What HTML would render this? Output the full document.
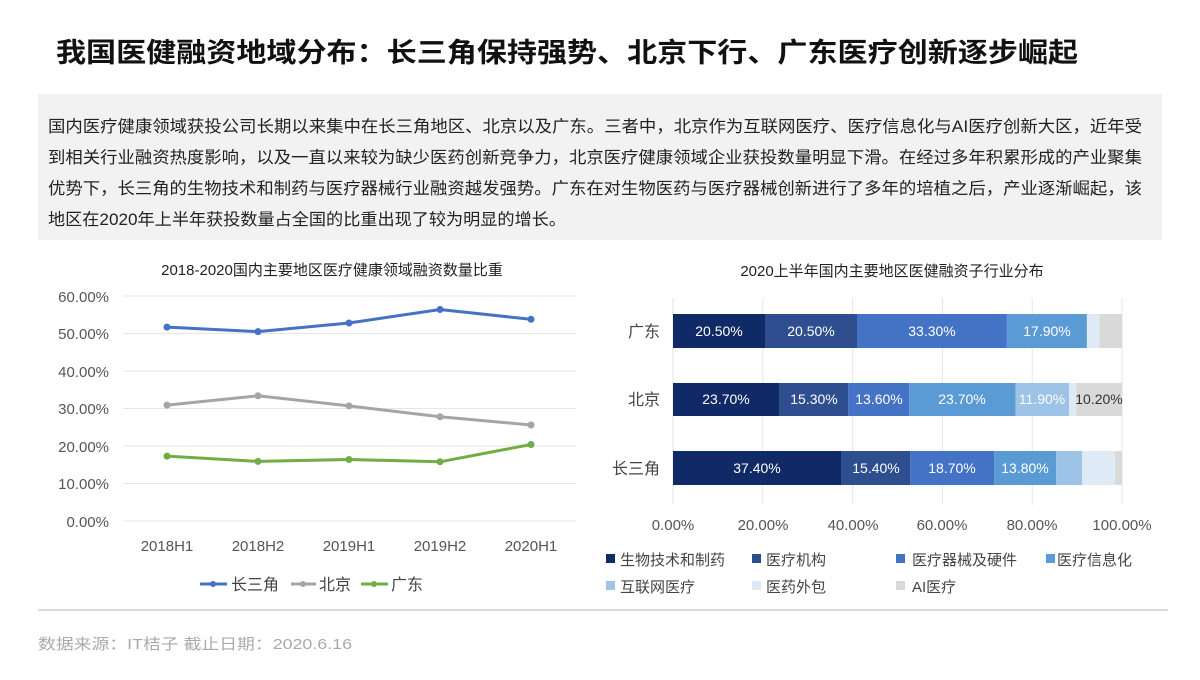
<!DOCTYPE html>
<html><head><meta charset="utf-8"><style>
body{margin:0;width:1200px;height:675px;background:#fff;overflow:hidden;font-family:"Liberation Sans","Noto Sans CJK SC",sans-serif;}
</style></head><body>
<svg width="1200" height="675" xmlns="http://www.w3.org/2000/svg" font-family="Liberation Sans, Noto Sans CJK SC, sans-serif">
<text x="56" y="62" font-size="27" font-weight="bold" fill="#111" textLength="1022" lengthAdjust="spacingAndGlyphs">我国医健融资地域分布：长三角保持强势、北京下行、广东医疗创新逐步崛起</text>
<rect x="38" y="94" width="1124" height="146" fill="#f2f2f2"/>
<g font-size="16.5" fill="#222">
<text x="48" y="132" textLength="1094" lengthAdjust="spacingAndGlyphs">国内医疗健康领域获投公司长期以来集中在长三角地区、北京以及广东。三者中，北京作为互联网医疗、医疗信息化与AI医疗创新大区，近年受</text>
<text x="48" y="163" textLength="1094" lengthAdjust="spacingAndGlyphs">到相关行业融资热度影响，以及一直以来较为缺少医药创新竞争力，北京医疗健康领域企业获投数量明显下滑。在经过多年积累形成的产业聚集</text>
<text x="48" y="194" textLength="1094" lengthAdjust="spacingAndGlyphs">优势下，长三角的生物技术和制药与医疗器械行业融资越发强势。广东在对生物医药与医疗器械创新进行了多年的培植之后，产业逐渐崛起，该</text>
<text x="48" y="225" textLength="518" lengthAdjust="spacingAndGlyphs">地区在2020年上半年获投数量占全国的比重出现了较为明显的增长。</text>
</g>
<!-- line chart -->
<text x="332" y="275" font-size="15" fill="#222" text-anchor="middle">2018-2020国内主要地区医疗健康领域融资数量比重</text>
<g stroke="#e6e6e6" stroke-width="1">
<line x1="123" x2="576" y1="296" y2="296"/><line x1="123" x2="576" y1="333.5" y2="333.5"/><line x1="123" x2="576" y1="371" y2="371"/><line x1="123" x2="576" y1="408.5" y2="408.5"/><line x1="123" x2="576" y1="446" y2="446"/><line x1="123" x2="576" y1="483.5" y2="483.5"/><line x1="123" x2="576" y1="521" y2="521"/>
</g>
<g font-size="15" fill="#555" text-anchor="end">
<text x="109" y="302">60.00%</text><text x="109" y="339">50.00%</text><text x="109" y="377">40.00%</text><text x="109" y="414">30.00%</text><text x="109" y="452">20.00%</text><text x="109" y="489">10.00%</text><text x="109" y="527">0.00%</text>
</g>
<g font-size="15" fill="#555" text-anchor="middle">
<text x="167" y="551">2018H1</text><text x="258" y="551">2018H2</text><text x="349" y="551">2019H1</text><text x="440" y="551">2019H2</text><text x="531" y="551">2020H1</text>
</g>
<g fill="none" stroke-width="3">
<polyline stroke="#4472c4" points="167,327.1 258,331.6 349,323 440,309.5 531,319.3"/>
<polyline stroke="#a5a5a5" points="167,405.1 258,395.8 349,405.9 440,416.8 531,425"/>
<polyline stroke="#70ad47" points="167,456.1 258,461.4 349,459.5 440,461.8 531,444.5"/>
</g>
<g fill="#4472c4"><circle cx="167" cy="327.1" r="3.5"/><circle cx="258" cy="331.6" r="3.5"/><circle cx="349" cy="323" r="3.5"/><circle cx="440" cy="309.5" r="3.5"/><circle cx="531" cy="319.3" r="3.5"/></g>
<g fill="#a5a5a5"><circle cx="167" cy="405.1" r="3.5"/><circle cx="258" cy="395.8" r="3.5"/><circle cx="349" cy="405.9" r="3.5"/><circle cx="440" cy="416.8" r="3.5"/><circle cx="531" cy="425" r="3.5"/></g>
<g fill="#70ad47"><circle cx="167" cy="456.1" r="3.5"/><circle cx="258" cy="461.4" r="3.5"/><circle cx="349" cy="459.5" r="3.5"/><circle cx="440" cy="461.8" r="3.5"/><circle cx="531" cy="444.5" r="3.5"/></g>
<g stroke-width="3"><line x1="200" x2="227" y1="584" y2="584" stroke="#4472c4"/><line x1="291" x2="316" y1="584" y2="584" stroke="#a5a5a5"/><line x1="361" x2="388" y1="584" y2="584" stroke="#70ad47"/></g>
<circle cx="213" cy="584" r="3" fill="#4472c4"/><circle cx="303" cy="584" r="3" fill="#a5a5a5"/><circle cx="374" cy="584" r="3" fill="#70ad47"/>
<g font-size="16" fill="#444"><text x="231" y="590">长三角</text><text x="319" y="590">北京</text><text x="391" y="590">广东</text></g>
<!-- bar chart -->
<text x="892" y="276" font-size="15" fill="#222" text-anchor="middle">2020上半年国内主要地区医健融资子行业分布</text>
<g stroke="#e6e6e6"><line x1="673" x2="673" y1="298" y2="505"/><line x1="762.8" x2="762.8" y1="298" y2="505"/><line x1="852.6" x2="852.6" y1="298" y2="505"/><line x1="942.4" x2="942.4" y1="298" y2="505"/><line x1="1032.2" x2="1032.2" y1="298" y2="505"/><line x1="1122" x2="1122" y1="298" y2="505"/></g>
<g font-size="15" fill="#555" text-anchor="middle"><text x="673" y="530">0.00%</text><text x="763" y="530">20.00%</text><text x="853" y="530">40.00%</text><text x="942" y="530">60.00%</text><text x="1032" y="530">80.00%</text><text x="1122" y="530">100.00%</text></g>
<g font-size="16" fill="#444" text-anchor="end"><text x="660" y="337">广东</text><text x="660" y="405">北京</text><text x="660" y="474">长三角</text></g>
<rect x="673" y="314" width="92" height="34" fill="#0f2a66"/><rect x="765" y="314" width="92" height="34" fill="#2e4e8f"/><rect x="857" y="314" width="149.5" height="34" fill="#4472c4"/><rect x="1006.5" y="314" width="80.4" height="34" fill="#5b9bd5"/><rect x="1086.9" y="314" width="12.6" height="34" fill="#deebf7"/><rect x="1099.5" y="314" width="22.5" height="34" fill="#d9d9d9"/>
<rect x="673" y="383" width="106.4" height="33" fill="#0f2a66"/><rect x="779.4" y="383" width="68.7" height="33" fill="#2e4e8f"/><rect x="848.1" y="383" width="61.1" height="33" fill="#4472c4"/><rect x="909.2" y="383" width="106.4" height="33" fill="#5b9bd5"/><rect x="1015.6" y="383" width="53.4" height="33" fill="#9dc3e6"/><rect x="1069" y="383" width="7.2" height="33" fill="#deebf7"/><rect x="1076.2" y="383" width="45.8" height="33" fill="#d9d9d9"/>
<rect x="673" y="451" width="168" height="34" fill="#0f2a66"/><rect x="841" y="451" width="69.1" height="34" fill="#2e4e8f"/><rect x="910.1" y="451" width="84" height="34" fill="#4472c4"/><rect x="994.1" y="451" width="62" height="34" fill="#5b9bd5"/><rect x="1056.1" y="451" width="26" height="34" fill="#9dc3e6"/><rect x="1082.1" y="451" width="32.8" height="34" fill="#deebf7"/><rect x="1114.9" y="451" width="7.1" height="34" fill="#d9d9d9"/>
<g font-size="14" fill="#fff" text-anchor="middle">
<text x="719" y="336">20.50%</text><text x="811" y="336">20.50%</text><text x="932" y="336">33.30%</text><text x="1047" y="336">17.90%</text>
<text x="726" y="404">23.70%</text><text x="814" y="404">15.30%</text><text x="879" y="404">13.60%</text><text x="962" y="404">23.70%</text><text x="1042" y="404">11.90%</text>
<text x="757" y="473">37.40%</text><text x="876" y="473">15.40%</text><text x="952" y="473">18.70%</text><text x="1025" y="473">13.80%</text>
</g>
<text x="1099" y="404" font-size="14" fill="#333" text-anchor="middle">10.20%</text>
<g font-size="15" fill="#444">
<rect x="606" y="554" width="9" height="9" fill="#0f2a66"/><text x="620" y="565">生物技术和制药</text>
<rect x="752" y="554" width="9" height="9" fill="#2e4e8f"/><text x="766" y="565">医疗机构</text>
<rect x="896" y="554" width="9" height="9" fill="#4472c4"/><text x="912" y="565">医疗器械及硬件</text>
<rect x="1046" y="554" width="9" height="9" fill="#5b9bd5"/><text x="1057" y="565">医疗信息化</text>
<rect x="606" y="581" width="9" height="9" fill="#9dc3e6"/><text x="620" y="592">互联网医疗</text>
<rect x="752" y="581" width="9" height="9" fill="#deebf7"/><text x="766" y="592">医药外包</text>
<rect x="896" y="581" width="9" height="9" fill="#d9d9d9"/><text x="912" y="592">AI医疗</text>
</g>
<line x1="38" x2="1168" y1="610" y2="610" stroke="#d0d0d0" stroke-width="1.5"/>
<text x="38" y="649" font-size="15" fill="#aaa" textLength="314" lengthAdjust="spacingAndGlyphs">数据来源：IT桔子  截止日期：2020.6.16</text>
</svg>
</body></html>
